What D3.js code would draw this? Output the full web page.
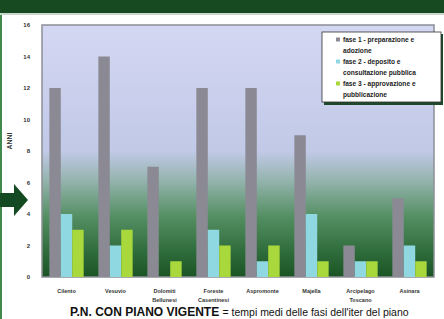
<!DOCTYPE html>
<html>
<head>
<meta charset="utf-8">
<script src="https://cdn.jsdelivr.net/npm/d3@7"></script>
<style>
  body{margin:0;background:#fff;}
  svg{display:block;font-family:"Liberation Sans",Arial,sans-serif;}
</style>
</head>
<body>
<svg id="chart" width="444" height="319"></svg>
<script>
// data (anni)
var parchi = [["Cilento"],["Vesuvio"],["Dolomiti","Bellunesi"],["Foreste","Casentinesi"],["Aspromonte"],["Majella"],["Arcipelago","Toscano"],["Asinara"]];
var fase1 = [12,14,7,12,12,9,2,5];
var fase2 = [4,2,0,3,1,4,1,2];
var fase3 = [3,3,1,2,2,1,1,1];
var serieNomi = [["fase 1 - preparazione e","adozione"],["fase 2 - deposito e","consultazione pubblica"],["fase 3 - approvazione e","pubblicazione"]];
var serieColori = ["#8b8a94","#8fd8e2","#a9d83c"];
var yTicks = [0,2,4,6,8,10,12,14,16];

var svg = d3.select("#chart");
var W = 444, H = 319;
var m = {left:42, right:10, top:25, bottom:42};
var pw = W-m.left-m.right, ph = H-m.top-m.bottom;

// header bar + slide border
svg.append("rect").attr("x",0).attr("y",0).attr("width",W).attr("height",13).attr("fill","#174a20");
svg.append("rect").attr("x",0).attr("y",13).attr("width",W).attr("height",2).attr("fill","#c9d6cb");
svg.append("rect").attr("x",0).attr("y",15).attr("width",2).attr("height",H-15).attr("fill","#3f8a4c");

var defs = svg.append("defs");
var grad = defs.append("linearGradient").attr("id","bg").attr("x1",0).attr("y1",0).attr("x2",0).attr("y2",1);
[[0,"#d4d7f2"],[0.5,"#c1c9e7"],[0.62,"#93b3ac"],[0.76,"#548f63"],[0.9,"#2f6c3b"],[1,"#1b5424"]].forEach(function(s){
  grad.append("stop").attr("offset",s[0]).attr("stop-color",s[1]);
});

var x0 = d3.scaleBand().domain(d3.range(parchi.length)).range([m.left,m.left+pw]).paddingInner(0.3).paddingOuter(0.15);
var x1 = d3.scaleBand().domain([0,1,2]).range([0,x0.bandwidth()]);
var y = d3.scaleLinear().domain([0,16]).range([m.top+ph,m.top]);

svg.append("rect").attr("x",m.left).attr("y",m.top).attr("width",pw).attr("height",ph)
  .attr("fill","url(#bg)").attr("stroke","#8d8f96").attr("stroke-width",1.5);

// axes
var yAxis = svg.append("g").attr("transform",`translate(${m.left},0)`)
  .call(d3.axisLeft(y).tickValues(yTicks).tickSize(0).tickPadding(12));
yAxis.select(".domain").remove();
yAxis.selectAll("text").attr("font-size",6).attr("font-weight","bold").attr("fill","#333");

svg.append("text").attr("transform",`translate(12,${m.top+ph/2-10}) rotate(-90)`)
  .attr("text-anchor","middle").attr("font-size",7).attr("font-weight","bold").attr("fill","#333").text("ANNI");

// bars
var serie = [fase1,fase2,fase3];
var gruppi = svg.selectAll(".gruppo").data(parchi).enter().append("g").attr("class","gruppo")
  .attr("transform",(d,i)=>`translate(${x0(i)},0)`);
gruppi.selectAll("rect").data((d,i)=>serie.map((s,k)=>({k:k,v:s[i]}))).enter().append("rect")
  .attr("x",d=>x1(d.k)).attr("width",x1.bandwidth())
  .attr("y",d=>y(d.v)).attr("height",d=>y(0)-y(d.v))
  .attr("fill",d=>serieColori[d.k]);

// category labels
var lab = svg.selectAll(".cat").data(parchi).enter().append("text").attr("class","cat")
  .attr("x",(d,i)=>x0(i)+x0.bandwidth()/2).attr("y",y(0)+16)
  .attr("text-anchor","middle").attr("font-size",5.5).attr("font-weight","bold").attr("fill","#333");
lab.selectAll("tspan").data(d=>d).enter().append("tspan")
  .attr("x",function(){return this.parentNode.getAttribute("x");})
  .attr("dy",(d,i)=>i?9:0).text(d=>d);

// legend
var lg = svg.append("g").attr("transform","translate(322,32)");
lg.append("rect").attr("x",2).attr("y",2).attr("width",119).attr("height",71).attr("fill","#1f4a2a");
lg.append("rect").attr("width",119).attr("height",70).attr("fill","#fff").attr("stroke","#333").attr("stroke-width",0.8);
serieNomi.forEach(function(n,k){
  var g = lg.append("g").attr("transform",`translate(14,${10+k*22})`);
  g.append("rect").attr("x",0).attr("y",-4.5).attr("width",4).attr("height",4).attr("fill",serieColori[k]);
  g.append("text").attr("x",7).attr("y",0).attr("font-size",6.6).attr("font-weight","bold").attr("fill","#222").text(n[0]);
  g.append("text").attr("x",7).attr("y",11).attr("font-size",6.6).attr("font-weight","bold").attr("fill","#222").text(n[1]);
});

// arrow
var ay = 200;
svg.append("path")
  .attr("d",`M0,${ay-7} L14,${ay-7} L14,${ay-16} L28,${ay} L14,${ay+16} L14,${ay+7} L0,${ay+7} Z`)
  .attr("fill","#144a22");

// bottom caption
var cap = svg.append("text").attr("x",70).attr("y",316).attr("font-weight","bold").attr("fill","#111");
cap.append("tspan").attr("font-size",12).text("P.N. CON PIANO VIGENTE ");
cap.append("tspan").attr("font-size",10.5).attr("font-weight","normal").text("= tempi medi delle fasi dell'iter del piano");
</script>
</body>
</html>
